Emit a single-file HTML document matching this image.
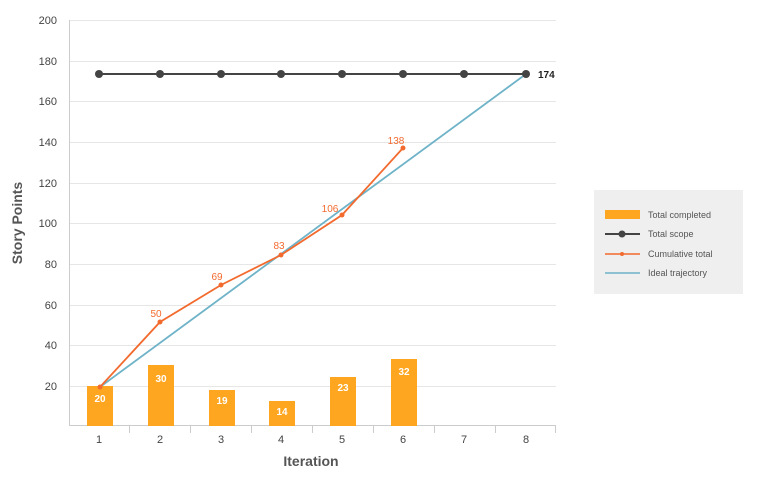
<!DOCTYPE html>
<html><head><style>body{margin:0;background:#fff;font-family:"Liberation Sans",sans-serif}</style></head><body>
<svg width="768" height="485" xmlns="http://www.w3.org/2000/svg" font-family="Liberation Sans, sans-serif">
<g stroke="#e6e6e6" stroke-width="1">
<line x1="69" x2="556" y1="20.5" y2="20.5"/><line x1="69" x2="556" y1="61.5" y2="61.5"/><line x1="69" x2="556" y1="101.5" y2="101.5"/><line x1="69" x2="556" y1="142.5" y2="142.5"/><line x1="69" x2="556" y1="183.5" y2="183.5"/><line x1="69" x2="556" y1="223.5" y2="223.5"/><line x1="69" x2="556" y1="264.5" y2="264.5"/><line x1="69" x2="556" y1="305.5" y2="305.5"/><line x1="69" x2="556" y1="345.5" y2="345.5"/><line x1="69" x2="556" y1="386.5" y2="386.5"/>
</g>
<g stroke="#ccc"><line x1="69.5" x2="69.5" y1="20" y2="426"/><line x1="69" x2="556" y1="425.5" y2="425.5"/>
<line x1="129.5" x2="129.5" y1="426" y2="433"/><line x1="190.5" x2="190.5" y1="426" y2="433"/><line x1="251.5" x2="251.5" y1="426" y2="433"/><line x1="312.5" x2="312.5" y1="426" y2="433"/><line x1="373.5" x2="373.5" y1="426" y2="433"/><line x1="434.5" x2="434.5" y1="426" y2="433"/><line x1="495.5" x2="495.5" y1="426" y2="433"/><line x1="555.5" x2="555.5" y1="426" y2="433"/></g>
<g font-size="11" fill="#444" text-anchor="end">
<text x="57" y="24">200</text><text x="57" y="65">180</text><text x="57" y="105">160</text><text x="57" y="146">140</text><text x="57" y="187">120</text><text x="57" y="227">100</text><text x="57" y="268">80</text><text x="57" y="309">60</text><text x="57" y="349">40</text><text x="57" y="390">20</text></g>
<g font-size="11" fill="#444" text-anchor="middle">
<text x="99" y="443">1</text><text x="160" y="443">2</text><text x="221" y="443">3</text><text x="281" y="443">4</text><text x="342" y="443">5</text><text x="403" y="443">6</text><text x="464" y="443">7</text><text x="526" y="443">8</text></g>
<text x="311" y="466" font-size="14" font-weight="bold" fill="#555" text-anchor="middle">Iteration</text>
<text transform="translate(22,223) rotate(-90)" font-size="14" font-weight="bold" fill="#555" text-anchor="middle">Story Points</text>
<g fill="#ffa620">
<rect x="87" y="386" width="26" height="40"/><rect x="148" y="365" width="26" height="61"/><rect x="209" y="390" width="26" height="36"/><rect x="269" y="401" width="26" height="25"/><rect x="330" y="377" width="26" height="49"/><rect x="391" y="359" width="26" height="67"/></g>
<g font-size="10" fill="#fff" font-weight="bold" text-anchor="middle">
<text x="100" y="402">20</text><text x="161" y="382">30</text><text x="222" y="404">19</text><text x="282" y="415">14</text><text x="343" y="391">23</text><text x="404" y="375">32</text></g>
<polyline points="100,387 526,74" fill="none" stroke="#6fb3c8" stroke-width="1.8"/>
<polyline points="100,387 160,322 221,285 281,255 342,215 403,148" fill="none" stroke="#f26a2e" stroke-width="1.8"/>
<g fill="#f26a2e"><circle cx="100" cy="387" r="2.5"/><circle cx="160" cy="322" r="2.5"/><circle cx="221" cy="285" r="2.5"/><circle cx="281" cy="255" r="2.5"/><circle cx="342" cy="215" r="2.5"/><circle cx="403" cy="148" r="2.5"/></g>
<g font-size="10" fill="#f26a2e" text-anchor="middle"><text x="156" y="317">50</text><text x="217" y="280">69</text><text x="279" y="249">83</text><text x="330" y="212">106</text><text x="396" y="144">138</text></g>
<line x1="99" x2="526" y1="74" y2="74" stroke="#444" stroke-width="2"/>
<g fill="#444"><circle cx="99" cy="74" r="4"/><circle cx="160" cy="74" r="4"/><circle cx="221" cy="74" r="4"/><circle cx="281" cy="74" r="4"/><circle cx="342" cy="74" r="4"/><circle cx="403" cy="74" r="4"/><circle cx="464" cy="74" r="4"/><circle cx="526" cy="74" r="4"/></g>
<text x="538" y="78" font-size="10" font-weight="bold" fill="#222">174</text>
<rect x="594" y="190" width="149" height="104" fill="#efefef"/>
<rect x="605" y="210" width="35" height="9" fill="#ffa620"/>
<line x1="605" x2="640" y1="234" y2="234" stroke="#444" stroke-width="2"/><circle cx="622" cy="234" r="3.5" fill="#444"/>
<line x1="605" x2="640" y1="254" y2="254" stroke="#f26a2e" stroke-width="1.5"/><circle cx="622" cy="254" r="2" fill="#f26a2e"/>
<line x1="605" x2="640" y1="273" y2="273" stroke="#6fb3c8" stroke-width="1.5"/>
<g font-size="9" fill="#555"><text x="648" y="218">Total completed</text><text x="648" y="237">Total scope</text><text x="648" y="257">Cumulative total</text><text x="648" y="276">Ideal trajectory</text></g>
</svg>
</body></html>
